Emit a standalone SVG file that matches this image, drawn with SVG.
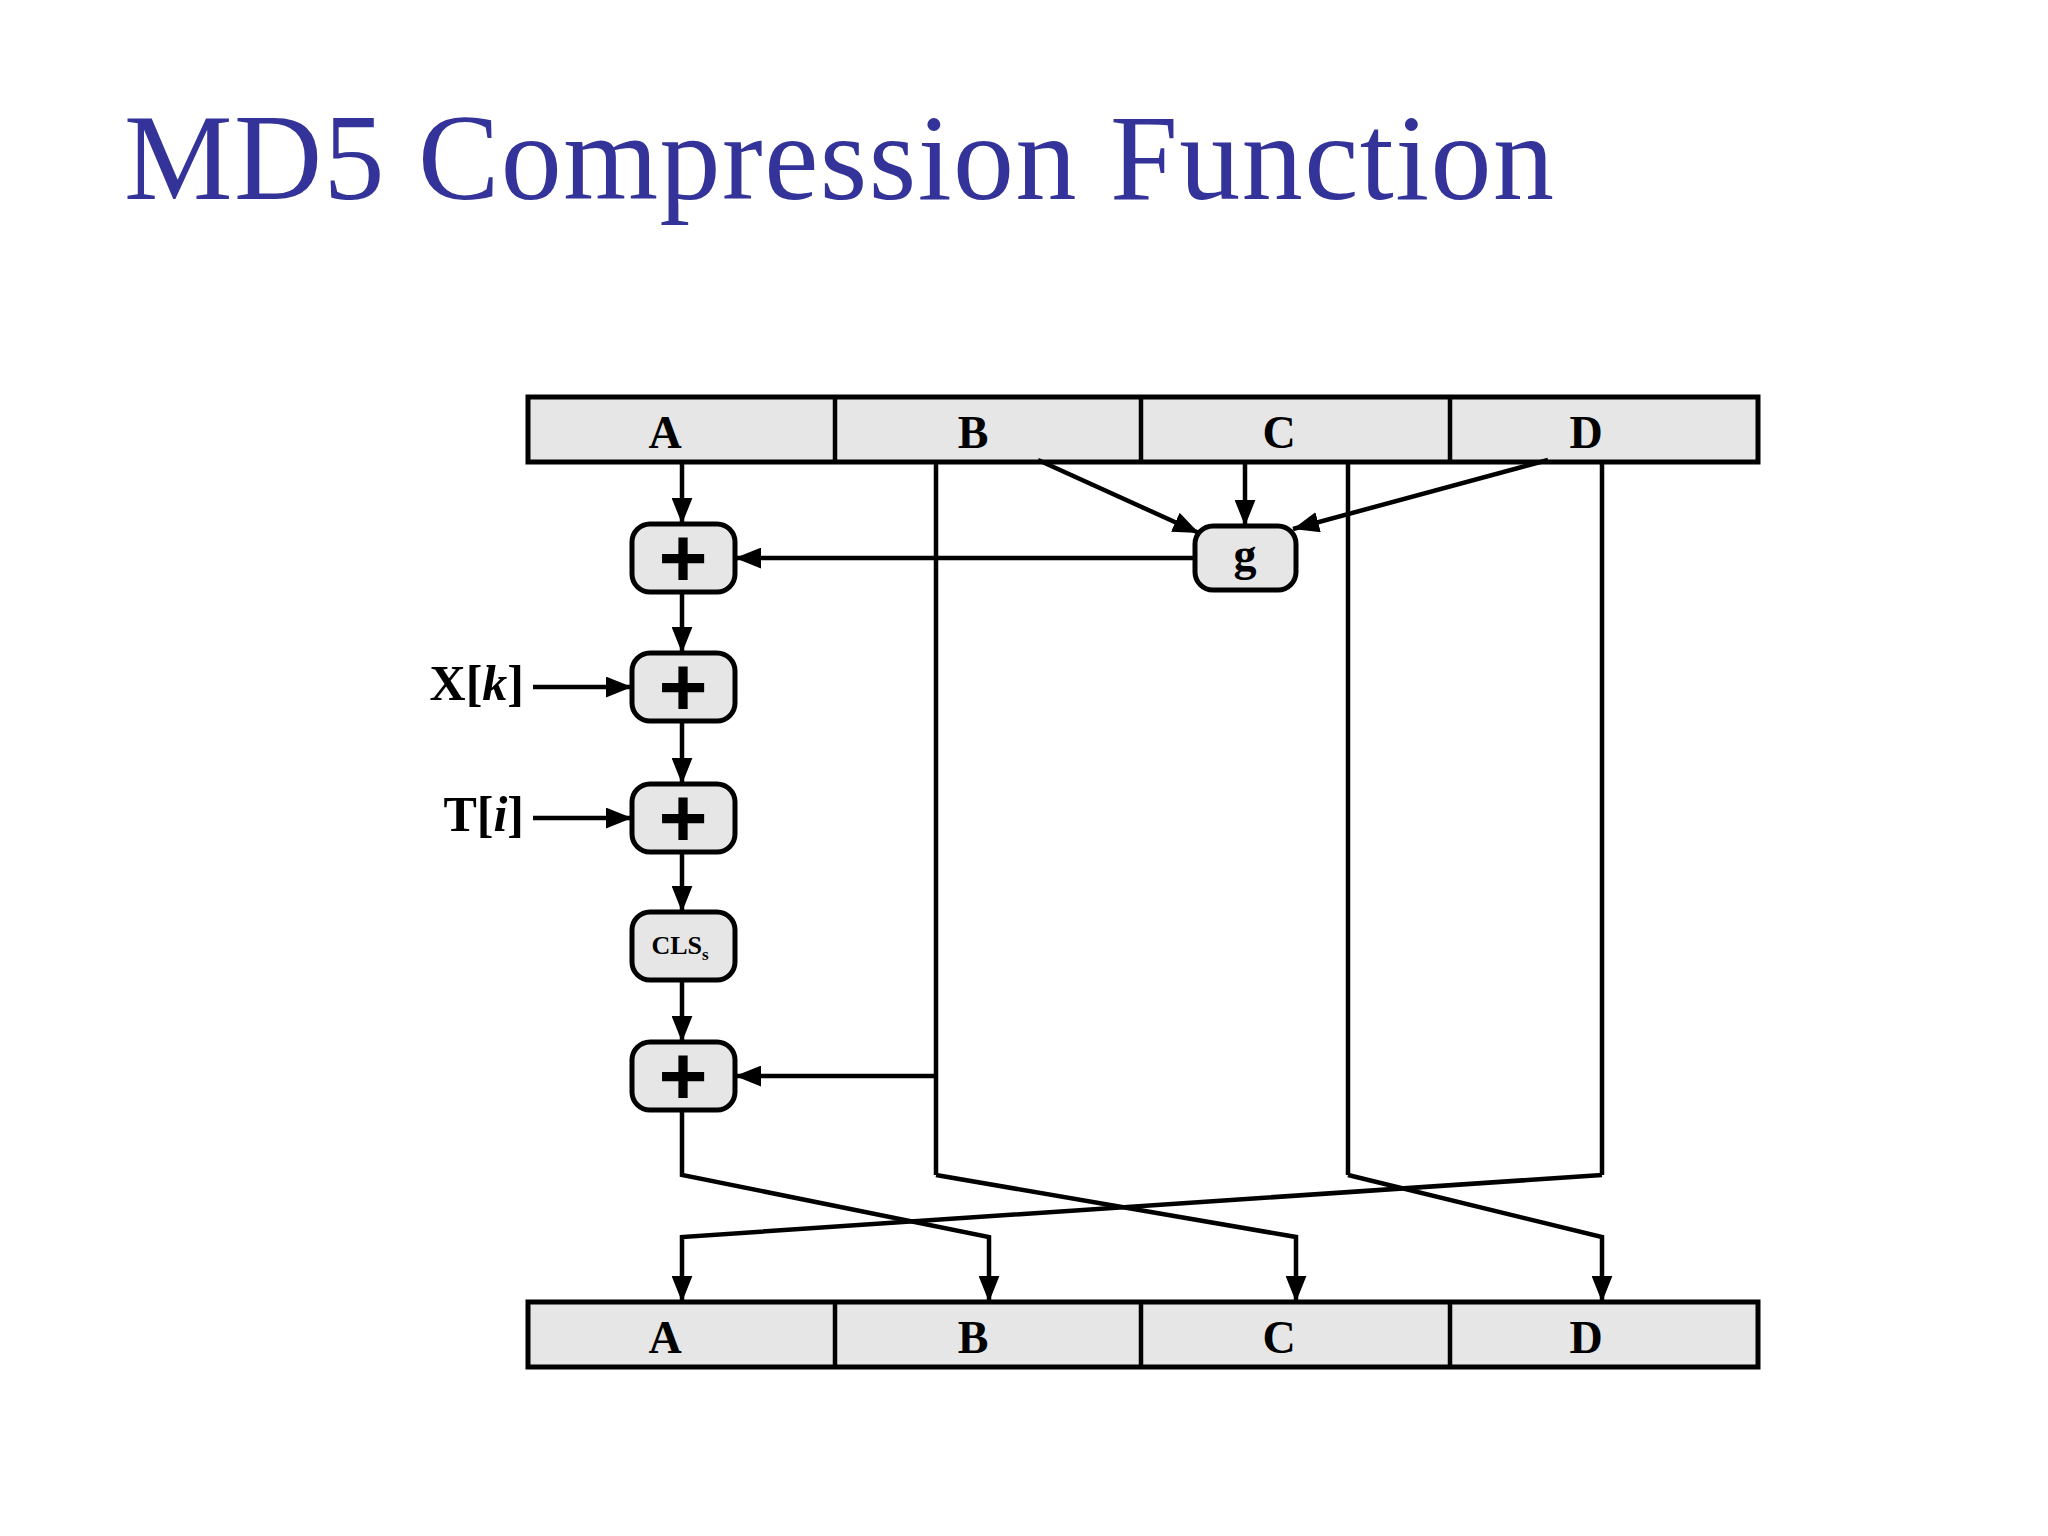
<svg xmlns="http://www.w3.org/2000/svg" width="2048" height="1536" viewBox="0 0 2048 1536">
<style>
.t{font-family:"Liberation Serif",serif}
.b{fill:#e6e6e6;stroke:#000;stroke-width:5}
.l{font-family:"Liberation Serif",serif;font-weight:bold;font-size:46px;text-anchor:middle}
.c{fill:none;stroke:#000;stroke-width:4.5}
.p{font-family:"Liberation Sans",sans-serif;font-size:84px;font-weight:bold;text-anchor:middle}
</style>
<defs>
<marker id="h" viewBox="0 0 10 8" refX="10" refY="4" markerWidth="26" markerHeight="21" orient="auto" markerUnits="userSpaceOnUse"><path d="M0,0L10,4L0,8z"/></marker></defs>
<rect width="2048" height="1536" fill="#fff"/>
<text class="t" x="124" y="199" font-size="122" fill="#333399" textLength="1430">MD5 Compression Function</text>
<g id="top"><rect class="b" x="528" y="397" width="1230" height="65"/>
<path class="c" d="M835,397V462M1141,397V462M1450,397V462"/>
<text class="l" x="665" y="448">A</text><text class="l" x="973" y="448">B</text><text class="l" x="1279" y="448">C</text><text class="l" x="1586" y="448">D</text></g>
<g id="bottom"><rect class="b" x="528" y="1302" width="1230" height="65"/>
<path class="c" d="M835,1302V1367M1141,1302V1367M1450,1302V1367"/>
<text class="l" x="665" y="1353">A</text><text class="l" x="973" y="1353">B</text><text class="l" x="1279" y="1353">C</text><text class="l" x="1586" y="1353">D</text></g>
<g id="p1"><rect class="b" x="632" y="524" width="103" height="68" rx="18"/><text class="p" x="683" y="587">+</text></g>
<g id="p2"><rect class="b" x="632" y="653" width="103" height="68" rx="18"/><text class="p" x="683" y="716">+</text></g>
<g id="p3"><rect class="b" x="632" y="784" width="103" height="68" rx="18"/><text class="p" x="683" y="847">+</text></g>
<g id="cls"><rect class="b" x="632" y="912" width="103" height="68" rx="18"/><text class="t" x="680" y="954" font-size="26" font-weight="bold" text-anchor="middle">CLS<tspan font-size="17" dy="6">s</tspan></text></g>
<g id="p5"><rect class="b" x="632" y="1042" width="103" height="68" rx="18"/><text class="p" x="683" y="1105">+</text></g>
<g id="g"><rect class="b" x="1195" y="526" width="101" height="64" rx="18"/><text class="l" x="1245" y="570">g</text></g>
<text class="t" x="524" y="700" font-size="50" font-weight="bold" text-anchor="end">X[<tspan font-style="italic">k</tspan>]</text>
<text class="t" x="524" y="831" font-size="50" font-weight="bold" text-anchor="end">T[<tspan font-style="italic">i</tspan>]</text>
<g id="connectors">
<path class="c" d="M682,462V524" marker-end="url(#h)"/>
<path class="c" d="M682,592V653" marker-end="url(#h)"/>
<path class="c" d="M682,721V784" marker-end="url(#h)"/>
<path class="c" d="M682,852V912" marker-end="url(#h)"/>
<path class="c" d="M682,980V1042" marker-end="url(#h)"/>
<path class="c" d="M533,687H632" marker-end="url(#h)"/>
<path class="c" d="M533,818H632" marker-end="url(#h)"/>
<path class="c" d="M1195,558H735" marker-end="url(#h)"/>
<path class="c" d="M1038,460L1199,533" marker-end="url(#h)"/>
<path class="c" d="M1245,462V526" marker-end="url(#h)"/>
<path class="c" d="M1548,460L1293,529" marker-end="url(#h)"/>
<path class="c" d="M936,462V1175"/>
<path class="c" d="M936,1076H735" marker-end="url(#h)"/>
<path class="c" d="M1348,462V1175"/>
<path class="c" d="M1602,462V1175"/>
<path class="c" d="M682,1110V1175L989,1237V1302" marker-end="url(#h)"/>
<path class="c" d="M936,1175L1296,1237V1302" marker-end="url(#h)"/>
<path class="c" d="M1348,1175L1602,1237V1302" marker-end="url(#h)"/>
<path class="c" d="M1602,1175L682,1237V1302" marker-end="url(#h)"/>
</g>
</svg>
